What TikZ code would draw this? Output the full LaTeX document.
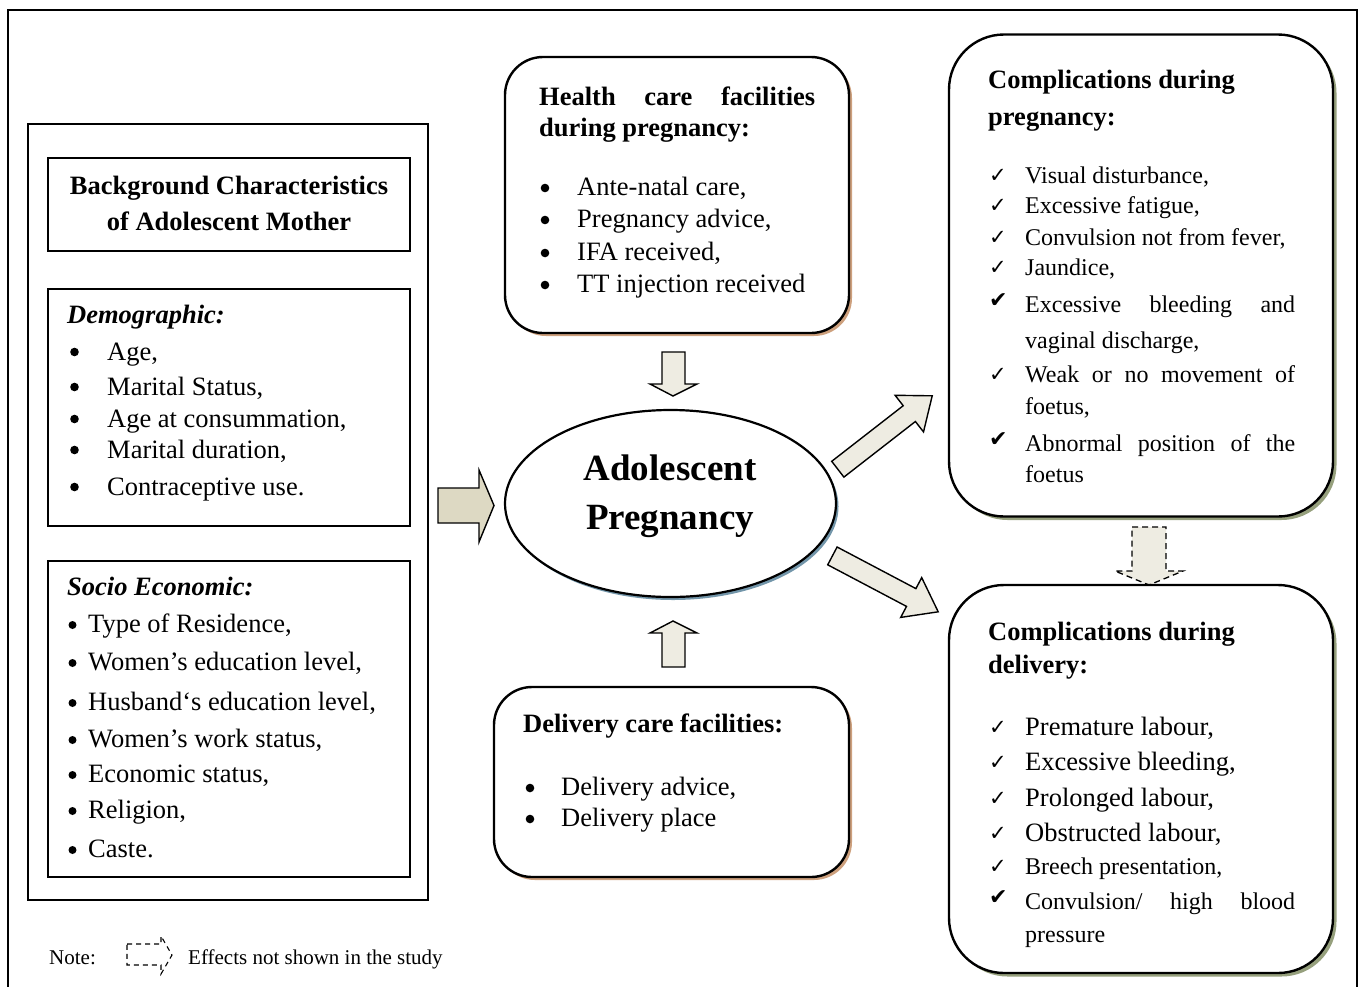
\documentclass[tikz,border=0pt]{standalone}
\usepackage{fontspec}
\setmainfont{Liberation Serif}
\newfontfamily\dejavu{DejaVu Sans}
\usetikzlibrary{shapes.geometric,shadows}

\definecolor{beige}{RGB}{238,236,226}
\definecolor{beigedark}{RGB}{221,217,195}
\definecolor{tanshadow}{RGB}{205,160,125}
\definecolor{oliveshadow}{RGB}{150,160,125}
\definecolor{blueshadow}{RGB}{115,150,170}

\newcommand{\bodyfont}{\fontsize{26.5}{33}\selectfont}
\newcommand{\smallbody}{\fontsize{24}{30}\selectfont}
\newcommand{\titlefont}{\fontsize{26.5}{33}\selectfont\bfseries}
\newcommand{\ckS}{{\dejavu\fontsize{21}{24}\selectfont ✓}}
\newcommand{\ckL}{{\dejavu\fontsize{22}{24}\selectfont ✔}}

\begin{document}
\begin{tikzpicture}[x=1pt,y=-1pt,
  txt/.style={anchor=base west, inner sep=0pt, font=\bodyfont},
  stxt/.style={anchor=base west, inner sep=0pt, font=\smallbody},
  ttl/.style={anchor=base west, inner sep=0pt, font=\titlefont},
  dot/.style={circle, fill=black, inner sep=0pt, minimum size=#1},
  dot/.default=8.6pt,
  sqbox/.style={draw, line width=2pt, inner sep=0pt},
  rbox/.style={draw, line width=2.4pt, fill=white, inner sep=0pt, rounded corners=#1},
  tanshad/.style={drop shadow={shadow xshift=3pt, shadow yshift=-3pt, fill=tanshadow, opacity=1}},
  oliveshad/.style={drop shadow={shadow xshift=3.5pt, shadow yshift=-3.5pt, fill=oliveshadow, opacity=1}},
  blockarrow/.style={draw, line width=1.4pt, fill=beige, line join=miter},
  dasharrow/.style={draw, line width=1.3pt, fill=beige, dash pattern=on 6pt off 4pt}
]
\useasboundingbox (0,0) rectangle (1362,986);

% outer frame
\draw[line width=1.5pt] (8,1000) -- (8,10) -- (1357,10) -- (1357,1000);

% ---------- left column ----------
\node[sqbox, minimum width=400pt, minimum height=776pt] (leftbox) at (228,512) {};
\node[sqbox, minimum width=362pt, minimum height=93pt] (bgbox) at (229,204.5) {};
\node[sqbox, minimum width=362pt, minimum height=237pt] (demobox) at (229,407.5) {};
\node[sqbox, minimum width=362pt, minimum height=316pt] (sociobox) at (229,719) {};

\node[anchor=base, inner sep=0pt, font=\titlefont] (bg1) at (229,194) {Background Characteristics};
\node[anchor=base, inner sep=0pt, font=\titlefont] (bg2) at (229,230) {of Adolescent Mother};

\node[ttl, font=\titlefont\itshape] (demot) at (67,323) {Demographic:};
\node[dot] (db1) at (74.5,352) {};  \node[txt] (d1) at (107,360) {Age,};
\node[dot] (db2) at (74.5,387) {};  \node[txt] (d2) at (107,395) {Marital Status,};
\node[dot] (db3) at (74.5,419) {};  \node[txt] (d3) at (107,427) {Age at consummation,};
\node[dot] (db4) at (74.5,450) {};  \node[txt] (d4) at (107,458) {Marital duration,};
\node[dot] (db5) at (74.5,487) {};  \node[txt] (d5) at (107,495) {Contraceptive use.};

\node[ttl, font=\titlefont\itshape] (sociot) at (67,595) {Socio Economic:};
\node[dot=8pt] (sb1) at (72.5,625) {}; \node[txt] (s1) at (88,632) {Type of Residence,};
\node[dot=8pt] (sb2) at (72.5,663) {}; \node[txt] (s2) at (88,670) {Women’s education level,};
\node[dot=8pt] (sb3) at (72.5,703) {}; \node[txt] (s3) at (88,710) {Husband‘s education level,};
\node[dot=8pt] (sb4) at (72.5,740) {}; \node[txt] (s4) at (88,747) {Women’s work status,};
\node[dot=8pt] (sb5) at (72.5,775) {}; \node[txt] (s5) at (88,782) {Economic status,};
\node[dot=8pt] (sb6) at (72.5,811) {}; \node[txt] (s6) at (88,818) {Religion,};
\node[dot=8pt] (sb7) at (72.5,850) {}; \node[txt] (s7) at (88,857) {Caste.};

% ---------- centre ----------
\node[rbox=38pt, tanshad, minimum width=344pt, minimum height=276pt] (health) at (677,195) {};
\node[ttl] (h0a) at (539,105) {\makebox[276pt][s]{Health care facilities}};
\node[ttl] (h0b) at (539,136) {during pregnancy:};
\node[dot] (hb1) at (545,188) {}; \node[txt] (h1) at (577,195) {Ante-natal care,};
\node[dot] (hb2) at (545,220) {}; \node[txt] (h2) at (577,227) {Pregnancy advice,};
\node[dot] (hb3) at (545,253) {}; \node[txt] (h3) at (577,260) {IFA received,};
\node[dot] (hb4) at (545,285) {}; \node[txt] (h4) at (577,292) {TT injection received};

\node[rbox=38pt, tanshad, minimum width=355pt, minimum height=190pt] (delcare) at (671.5,782) {};
\node[ttl] (dc0) at (523,732) {Delivery care facilities:};
\node[dot] (dcb1) at (530,788) {}; \node[txt] (dc1) at (561,795) {Delivery advice,};
\node[dot] (dcb2) at (530,819) {}; \node[txt] (dc2) at (561,826) {Delivery place};

\node[ellipse, draw, line width=2.2pt, fill=white, inner sep=0pt,
      minimum width=331pt, minimum height=187pt,
      drop shadow={shadow xshift=2.5pt, shadow yshift=-3pt, fill=blueshadow, opacity=1}] (adol) at (670.5,503.5) {};
\node[anchor=base, inner sep=0pt, font=\fontsize{37}{45}\selectfont\bfseries] (adol1) at (670,480) {Adolescent};
\node[anchor=base, inner sep=0pt, font=\fontsize{37}{45}\selectfont\bfseries] (adol2) at (670,529) {Pregnancy};

% block arrows
\path[blockarrow, fill=beigedark] (438,488) -- (479,488) -- (479,470) -- (494,505.5) -- (479,542) -- (479,523) -- (438,523) -- cycle;
\path[blockarrow] (662,352) -- (685,352) -- (685,384) -- (697,384) -- (673,396) -- (650,384) -- (662,384) -- cycle;
\path[blockarrow] (662,667) -- (685,667) -- (685,633) -- (697,633) -- (673,621) -- (650,633) -- (662,633) -- cycle;
\path[blockarrow] (831.7,461.3) -- (903.2,405.7) -- (895.1,395.3) -- (932.2,395.8) -- (923.5,431.9) -- (915.4,421.5) -- (843.9,477.1) -- cycle;
\path[blockarrow] (837.1,547.0) -- (915.9,588.6) -- (921.7,577.6) -- (938.2,611.8) -- (900.7,617.4) -- (906.5,606.4) -- (827.7,564.8) -- cycle;

% ---------- right column ----------
\node[rbox=55pt, oliveshad, minimum width=384pt, minimum height=482pt] (cpreg) at (1141,275.5) {};
\node[ttl] (cp0a) at (988,88) {Complications during};
\node[ttl] (cp0b) at (988,125) {pregnancy:};
\node[stxt] (cpk1) at (989,182) {\ckS}; \node[stxt] (cp1) at (1025,183) {Visual disturbance,};
\node[stxt] (cpk2) at (989,212) {\ckS}; \node[stxt] (cp2) at (1025,213) {Excessive fatigue,};
\node[stxt] (cpk3) at (989,244) {\ckS}; \node[stxt] (cp3) at (1025,245) {Convulsion not from fever,};
\node[stxt] (cpk4) at (989,274) {\ckS}; \node[stxt] (cp4) at (1025,275) {Jaundice,};
\node[stxt] (cpk5) at (989,307) {\ckL}; \node[stxt] (cp5) at (1025,312) {\makebox[270pt][s]{Excessive bleeding and}};
\node[stxt] (cp5b) at (1025,348) {vaginal discharge,};
\node[stxt] (cpk6) at (989,381) {\ckS}; \node[stxt] (cp6) at (1025,382) {\makebox[270pt][s]{Weak or no movement of}};
\node[stxt] (cp6b) at (1025,414) {foetus,};
\node[stxt] (cpk7) at (989,446) {\ckL}; \node[stxt] (cp7) at (1025,451) {\makebox[270pt][s]{Abnormal position of the}};
\node[stxt] (cp7b) at (1025,482) {foetus};

\path[dasharrow] (1132,527) -- (1166,527) -- (1166,571) -- (1183,571) -- (1149,585) -- (1115,571) -- (1132,571) -- cycle;

\node[rbox=55pt, oliveshad, minimum width=384pt, minimum height=388pt] (cdel) at (1141,779) {};
\node[ttl] (cd0a) at (988,640) {Complications during};
\node[ttl] (cd0b) at (988,673) {delivery:};
\node[txt] (cdk1) at (989,734) {\ckS}; \node[txt] (cd1) at (1025,735) {Premature labour,};
\node[txt] (cdk2) at (989,769) {\ckS}; \node[txt] (cd2) at (1025,770) {Excessive bleeding,};
\node[txt] (cdk3) at (989,805) {\ckS}; \node[txt] (cd3) at (1025,806) {Prolonged labour,};
\node[txt] (cdk4) at (989,840) {\ckS}; \node[txt] (cd4) at (1025,841) {Obstructed labour,};
\node[stxt] (cdk5) at (989,873) {\ckS}; \node[stxt] (cd5) at (1025,874) {Breech presentation,};
\node[stxt] (cdk6) at (989,904) {\ckL}; \node[stxt] (cd6) at (1025,909) {\makebox[270pt][s]{Convulsion/ high blood}};
\node[stxt] (cd6b) at (1025,942) {pressure};

% ---------- note ----------
\node[anchor=base west, inner sep=0pt, font=\fontsize{21}{24}\selectfont] (note) at (49,964) {Note:};
\path[dasharrow, fill=none, line width=1.1pt, dash pattern=on 5pt off 4pt] (127,944) -- (161,944) -- (161,936) -- (172,955) -- (161,974) -- (161,965) -- (127,965) -- cycle;
\node[anchor=base west, inner sep=0pt, font=\fontsize{21}{24}\selectfont] (notetext) at (188,964) {Effects not shown in the study};
\end{tikzpicture}
\end{document}
